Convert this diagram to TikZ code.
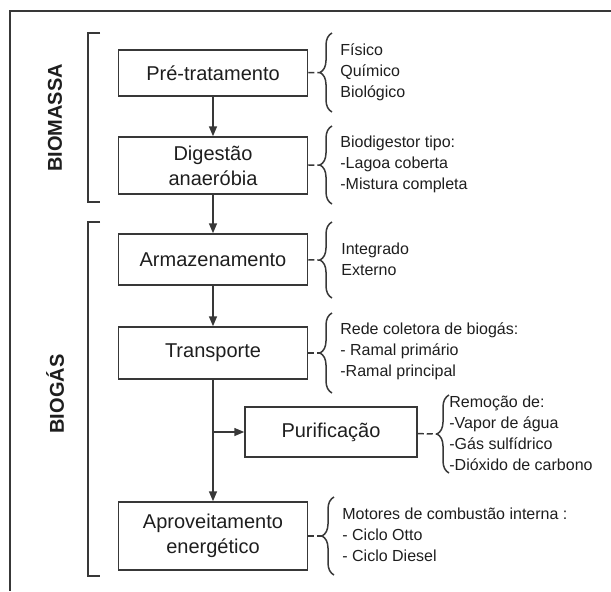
\documentclass[tikz,border=0pt]{standalone}
\usepackage{fontspec}
\setmainfont{Liberation Sans}
\usepackage{xcolor}
\usetikzlibrary{
    arrows.meta,
    decorations.pathreplacing,
    calc,
    positioning
}
\definecolor{traco}{HTML}{383838}
\definecolor{texto}{HTML}{1E1E1E}
\tikzset{
    moldura/.style={draw=traco, line width=1pt},
    linha/.style={draw=traco, line width=0.75pt},
    etapa/.style={draw=traco, line width=0.75pt, minimum width=94.5pt, align=center, text=texto, font=\fontsize{10}{12.5}\selectfont},
    rotulo/.style={rotate=90, text=texto, font=\bfseries\fontsize{10}{12}\selectfont},
    lista/.style={anchor=west, inner sep=0pt, align=left, text=texto, font=\fontsize{8}{10.5}\selectfont},
    seta/.style={draw=traco, line width=0.75pt, -{Triangle[length=5pt, width=4pt]}},
    ligacao/.style={draw=traco, line width=0.75pt, dash pattern=on 3pt off 1.5pt},
    chave/.style={draw=traco, line width=0.75pt, decorate, decoration={brace, amplitude=6pt}}
}

\begin{document}
\begin{tikzpicture}[x=0.5pt, y=-0.5pt]
                    \useasboundingbox (0, 0) rectangle (611, 591);
                    \draw[moldura] (611, 11) -- (10, 11) -- (10, 591);

                    \node[rotulo] (biomassa) at (55, 118) {BIOMASSA};
                    \node[rotulo] (biogas) at (55, 394) {BIOGÁS};

                    \draw[linha]
                    (100, 33) -- (88, 33) -- (88, 202) -- (100, 202)
                    (100, 222) -- (88, 222) -- (88, 576) -- (100, 576);

                    \node[etapa, minimum height=23pt] (pre) at (213, 73) {Pré-tratamento};
                    \node[etapa, minimum height=28.5pt] (dig) at (213, 165.5) {Digestão\\anaeróbia};
                    \node[etapa, minimum height=25.5pt] (arm) at (213, 259.5) {Armazenamento};
                    \node[etapa, minimum height=26pt] (tra) at (213, 353) {Transporte};
                    \node[etapa, minimum width=86pt, minimum height=25pt] (pur) at (331, 432) {Purificação};
                    \node[etapa, minimum height=34pt] (apr) at (213, 536) {Aproveitamento\\energético};

                    \coordinate (ramo) at (tra.south |- pur.west);

                    \draw
                    (pre) edge[seta] (dig)
                    (dig) edge[seta] (arm)
                    (arm) edge[seta] (tra)
                    (tra) edge[seta] (apr)
                    (ramo) edge[seta] (pur);

                    \foreach \n/\x/\ya/\yb in {1/332/112/33, 2/332/204/126, 3/332/298/222, 4/332/393/313, 5/449/473/395, 6/334/575/497} {
                        \draw[chave] (\x, \ya) -- (\x, \yb);
                        \coordinate (p\n) at ({\x-12}, {(\ya+\yb)/2});
                    };

                    \draw
                    (pre) edge[ligacao] (p1)
                    (dig) edge[ligacao] (p2)
                    (arm) edge[ligacao] (p3)
                    (tra) edge[ligacao] (p4)
                    (pur) edge[ligacao] (p5)
                    (apr) edge[ligacao] (p6);

                    \node[lista] (t1) at (340, 72) {Físico\\Químico\\Biológico};
                    \node[lista] (t2) at (340, 164) {Biodigestor tipo:\\-Lagoa coberta\\-Mistura completa};
                    \node[lista] (t3) at (341, 259.5) {Integrado\\Externo};
                    \node[lista] (t4) at (340, 351) {Rede coletora de biogás:\\- Ramal primário\\-Ramal principal};
                    \node[lista] (t5) at (449, 433.5) {Remoção de:\\-Vapor de água\\-Gás sulfídrico\\-Dióxido de carbono};
                    \node[lista] (t6) at (342, 534.5) {Motores de combustão interna :\\- Ciclo Otto\\- Ciclo Diesel};
                \end{tikzpicture}
\end{document}
